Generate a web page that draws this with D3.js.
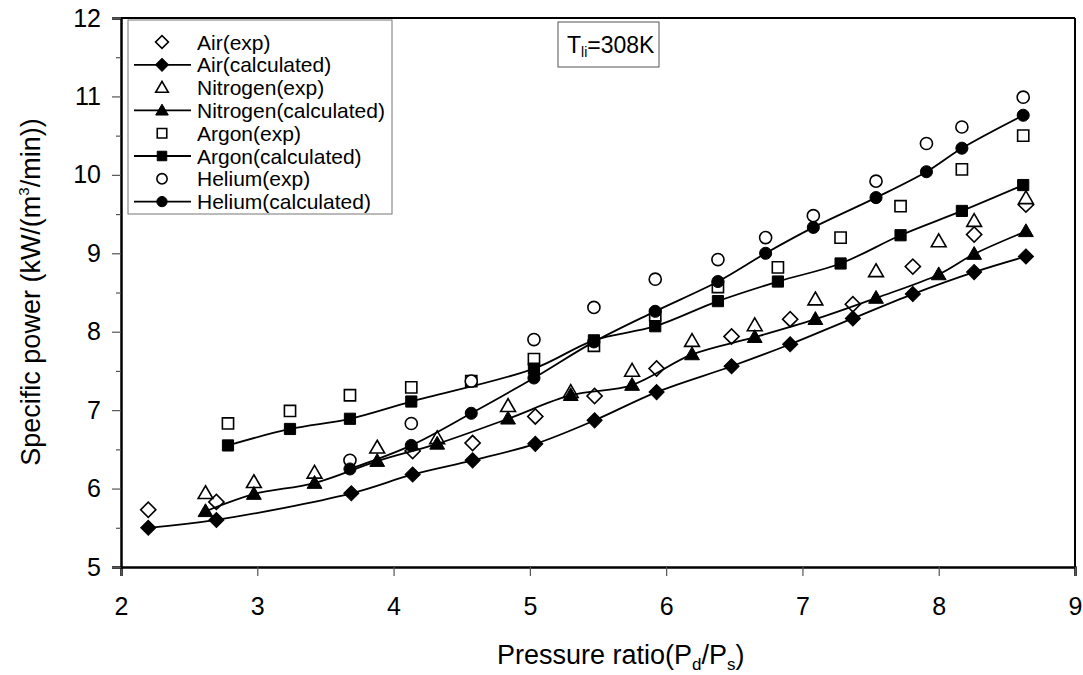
<!DOCTYPE html>
<html><head><meta charset="utf-8">
<script src="https://cdn.jsdelivr.net/npm/d3@7"></script>
<style>body{margin:0;background:#fff;} svg{display:block;} text{font-family:"Liberation Sans",Arial,sans-serif;fill:#000;}</style>
</head><body>
<svg id="c" width="1083" height="675"></svg>
<script>
const xTicks=[2,3,4,5,6,7,8,9];
const yTicks=[5,6,7,8,9,10,11,12];
const yMinor=[5.5,6.5,7.5,8.5,9.5,10.5,11.5];

const airExpX=[2.2,2.7,4.14,4.58,5.04,5.475,5.93,6.48,6.91,7.37,7.81,8.26,8.64];
const airExpY=[5.73,5.83,6.48,6.58,6.92,7.18,7.53,7.94,8.16,8.35,8.83,9.24,9.62];
const airCalcX=[2.2,2.7,3.69,4.14,4.58,5.04,5.475,5.93,6.48,6.91,7.37,7.81,8.26,8.64];
const airCalcY=[5.50,5.60,5.94,6.18,6.36,6.57,6.87,7.23,7.56,7.84,8.17,8.48,8.76,8.96];
const n2X=[2.62,2.975,3.42,3.88,4.32,4.84,5.30,5.75,6.19,6.65,7.095,7.54,8.0,8.26,8.64];
const n2ExpY=[5.94,6.08,6.20,6.52,6.64,7.05,7.23,7.50,7.88,8.08,8.41,8.77,9.15,9.41,9.70];
const n2CalcY=[5.71,5.93,6.07,6.35,6.57,6.89,7.19,7.32,7.71,7.93,8.16,8.43,8.73,8.99,9.28];
const arExpX=[2.785,3.24,3.68,4.13,4.57,5.03,5.47,5.92,6.38,6.82,7.28,7.72,8.17,8.62];
const arExpY=[6.83,6.99,7.19,7.29,7.37,7.65,7.82,8.21,8.57,8.82,9.20,9.60,10.07,10.50];
const arCalcX=[2.785,3.24,3.68,4.13,5.03,5.47,5.92,6.38,6.82,7.28,7.72,8.17,8.62];
const arCalcY=[6.55,6.76,6.89,7.11,7.53,7.89,8.07,8.39,8.64,8.87,9.23,9.54,9.87];
const heX=[3.68,4.13,4.57,5.03,5.47,5.92,6.38,6.73,7.08,7.54,7.91,8.17,8.62];
const heExpY=[6.36,6.83,7.37,7.90,8.31,8.67,8.92,9.20,9.48,9.92,10.40,10.61,10.99];
const heCalcY=[6.25,6.55,6.96,7.41,7.87,8.26,8.64,9.00,9.33,9.71,10.04,10.34,10.76];

const seriesNames=["Air(exp)","Air(calculated)","Nitrogen(exp)","Nitrogen(calculated)","Argon(exp)","Argon(calculated)","Helium(exp)","Helium(calculated)"];

const series=[
 {name:seriesNames[0],xs:airExpX,ys:airExpY,shape:"diamond",filled:false,line:false},
 {name:seriesNames[1],xs:airCalcX,ys:airCalcY,shape:"diamond",filled:true,line:true},
 {name:seriesNames[2],xs:n2X,ys:n2ExpY,shape:"triangle",filled:false,line:false},
 {name:seriesNames[3],xs:n2X,ys:n2CalcY,shape:"triangle",filled:true,line:true},
 {name:seriesNames[4],xs:arExpX,ys:arExpY,shape:"square",filled:false,line:false},
 {name:seriesNames[5],xs:arCalcX,ys:arCalcY,shape:"square",filled:true,line:true},
 {name:seriesNames[6],xs:heX,ys:heExpY,shape:"circle",filled:false,line:false},
 {name:seriesNames[7],xs:heX,ys:heCalcY,shape:"circle",filled:true,line:true}
];

const FONT="'Liberation Sans',Arial,sans-serif";
const svg=d3.select("#c");
const L=121,R=1075,T=18,B=567;
const x=d3.scaleLinear().domain([2,9]).range([L,R]);
const y=d3.scaleLinear().domain([5,12]).range([B,T]);

// frame
svg.append("line").attr("x1",L).attr("x2",R).attr("y1",T).attr("y2",T).attr("stroke","#000").attr("stroke-width",2);
svg.append("line").attr("x1",R).attr("x2",R).attr("y1",T).attr("y2",B).attr("stroke","#000").attr("stroke-width",2);

// axes
const xAxis=d3.axisBottom(x).tickValues(xTicks).tickSize(9).tickFormat(d3.format("d"));
const gx=svg.append("g").attr("transform",`translate(0,${B})`).call(xAxis);
gx.select(".domain").attr("stroke-width",2.5);
gx.selectAll(".tick line").attr("stroke","#555").attr("stroke-width",1.2);
gx.selectAll(".tick text").attr("font-size",25).attr("y",30).attr("dy","0.71em").style("font-family",FONT);

const yAxis=d3.axisLeft(y).tickValues(yTicks).tickSize(9).tickFormat(d3.format("d"));
const gy=svg.append("g").attr("transform",`translate(${L},0)`).call(yAxis);
gy.select(".domain").attr("stroke-width",2.5);
gy.selectAll(".tick line").attr("stroke","#555").attr("stroke-width",1.2);
gy.selectAll(".tick text").attr("font-size",25).attr("x",-20).style("font-family",FONT);
const gym=svg.append("g").attr("transform",`translate(${L},0)`).call(d3.axisLeft(y).tickValues(yMinor).tickSize(5).tickFormat(""));
gym.select(".domain").remove();
gym.selectAll(".tick line").attr("stroke","#555").attr("stroke-width",1.2);

// symbols
function symPath(shape,scale){
  scale=scale||1;
  if(shape==="diamond") return d3.symbol(d3.symbolSquare,115*scale*scale)();
  if(shape==="triangle") return d3.symbol(d3.symbolTriangle,95*scale*scale)();
  if(shape==="square") return d3.symbol(d3.symbolSquare,125*scale*scale)();
  return d3.symbol(d3.symbolCircle,115*scale*scale)();
}
function drawMarker(g,shape,filled,cx,cy,scale){
  const rot=shape==="diamond"?45:0;
  const dy=shape==="triangle"?1:0;
  g.append("path").attr("d",symPath(shape,scale))
   .attr("transform",`translate(${cx},${cy+dy}) rotate(${rot})`)
   .attr("fill",filled?"#000":"#fff").attr("stroke","#000").attr("stroke-width",filled?1:1.6);
}

const lineGen=d3.line().x(d=>x(d[0])).y(d=>y(d[1])).curve(d3.curveCatmullRom.alpha(0.5));
const plot=svg.append("g");
series.forEach(s=>{
  const pts=s.xs.map((v,i)=>[v,s.ys[i]]);
  if(s.line){
    plot.append("path").attr("d",lineGen(pts)).attr("fill","none").attr("stroke","#000").attr("stroke-width",1.8);
  }
  pts.forEach(p=>drawMarker(plot,s.shape,s.filled,x(p[0]),y(p[1]),1));
});

// legend
const lg=svg.append("g");
lg.append("rect").attr("x",128).attr("y",20).attr("width",264).attr("height",194).attr("fill","#fff").attr("stroke","#777").attr("stroke-width",1);
series.forEach((s,i)=>{
  const cy=42+i*22.8;
  if(s.line) lg.append("line").attr("x1",134).attr("x2",191).attr("y1",cy).attr("y2",cy).attr("stroke","#000").attr("stroke-width",1.8);
  drawMarker(lg,s.shape,s.filled,162,cy,0.85);
  lg.append("text").attr("x",197).attr("y",cy).attr("dy","0.36em").attr("font-size",21).text(s.name);
});

// T box
const tb=svg.append("g");
tb.append("rect").attr("x",558).attr("y",22).attr("width",101).attr("height",45).attr("fill","#fff").attr("stroke","#555").attr("stroke-width",1);
const tt=tb.append("text").attr("x",567).attr("y",53).attr("font-size",23);
tt.append("tspan").text("T");
tt.append("tspan").attr("font-size",14).attr("dy",4).text("li");
tt.append("tspan").attr("dy",-4).text("=308K");

// axis titles
const xt=svg.append("text").attr("x",497).attr("y",664).attr("text-anchor","start").attr("font-size",27);
xt.append("tspan").text("Pressure ratio(P");
xt.append("tspan").attr("font-size",17).attr("dy",6).text("d");
xt.append("tspan").attr("dy",-6).text("/P");
xt.append("tspan").attr("font-size",17).attr("dy",6).text("s");
xt.append("tspan").attr("dy",-6).text(")");

const yt=svg.append("text").attr("transform","translate(40,292) rotate(-90)").attr("text-anchor","middle").attr("font-size",27);
yt.append("tspan").text("Specific power (kW/(m");
yt.append("tspan").attr("font-size",15).attr("dy",-11).text("3");
yt.append("tspan").attr("dy",11).text("/min))");
</script>
</body></html>
